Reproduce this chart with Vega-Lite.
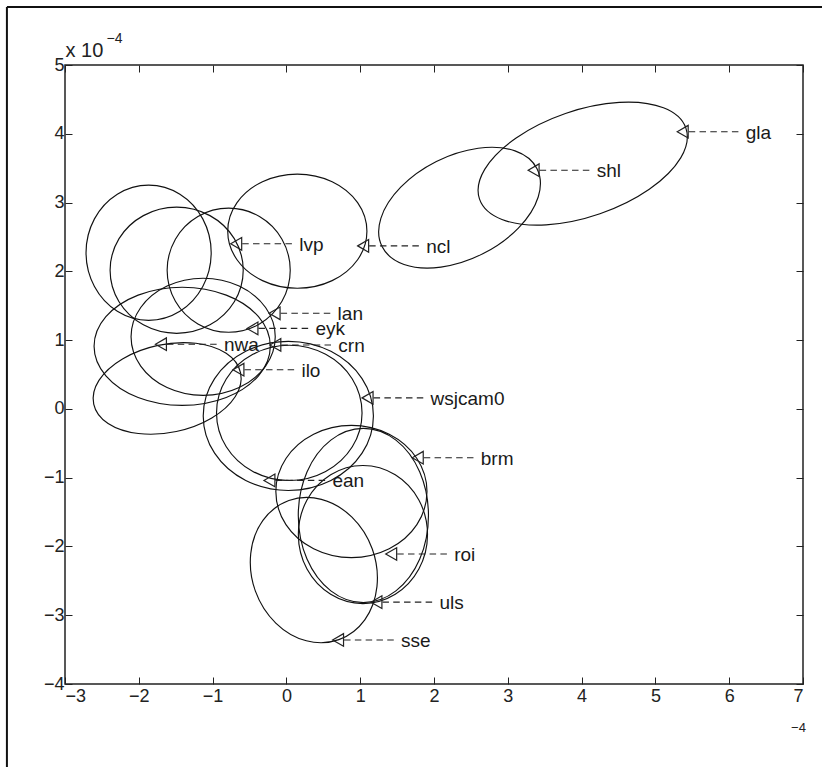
{
"$schema": "https://vega.github.io/schema/vega-lite/v6.json",
"width": 738, "height": 619,
"autosize": {"type": "none"},
"padding": {"left": 65, "top": 65, "right": 19, "bottom": 83},
"background": "white",
"config": {
  "view": {"stroke": "#222", "strokeWidth": 1.5},
  "axis": {"grid": false, "domain": false, "tickColor": "#222", "tickWidth": 1, "tickSize": -7,
    "labelFont": "Liberation Sans", "labelFontSize": 18, "labelColor": "#222",
    "titleFont": "Liberation Sans", "titleColor": "#222", "titleFontWeight": "normal"},
  "text": {"font": "Liberation Sans"}
},
"datasets": {
  "ell": [
{"e":"gla","i":0,"x":5.413,"y":4.083},{"e":"gla","i":1,"x":5.109,"y":4.378},{"e":"gla","i":2,"x":4.511,"y":4.456},{"e":"gla","i":3,"x":3.781,"y":4.295},{"e":"gla","i":4,"x":3.113,"y":3.939},{"e":"gla","i":5,"x":2.687,"y":3.483},{"e":"gla","i":6,"x":2.617,"y":3.049},{"e":"gla","i":7,"x":2.921,"y":2.754},{"e":"gla","i":8,"x":3.519,"y":2.676},{"e":"gla","i":9,"x":4.249,"y":2.837},{"e":"gla","i":10,"x":4.917,"y":3.193},{"e":"gla","i":11,"x":5.343,"y":3.649},
{"e":"shl","i":0,"x":3.396,"y":3.492},{"e":"shl","i":1,"x":3.098,"y":3.752},{"e":"shl","i":2,"x":2.599,"y":3.790},{"e":"shl","i":3,"x":2.032,"y":3.597},{"e":"shl","i":4,"x":1.549,"y":3.224},{"e":"shl","i":5,"x":1.280,"y":2.771},{"e":"shl","i":6,"x":1.296,"y":2.360},{"e":"shl","i":7,"x":1.594,"y":2.100},{"e":"shl","i":8,"x":2.094,"y":2.062},{"e":"shl","i":9,"x":2.661,"y":2.255},{"e":"shl","i":10,"x":3.143,"y":2.628},{"e":"shl","i":11,"x":3.412,"y":3.081},
{"e":"ncl","i":0,"x":1.091,"y":2.584},{"e":"ncl","i":1,"x":0.965,"y":2.999},{"e":"ncl","i":2,"x":0.620,"y":3.303},{"e":"ncl","i":3,"x":0.148,"y":3.414},{"e":"ncl","i":4,"x":-0.324,"y":3.303},{"e":"ncl","i":5,"x":-0.669,"y":2.999},{"e":"ncl","i":6,"x":-0.795,"y":2.584},{"e":"ncl","i":7,"x":-0.669,"y":2.169},{"e":"ncl","i":8,"x":-0.324,"y":1.865},{"e":"ncl","i":9,"x":0.148,"y":1.754},{"e":"ncl","i":10,"x":0.620,"y":1.865},{"e":"ncl","i":11,"x":0.965,"y":2.169},
{"e":"L1","i":0,"x":-1.019,"y":2.271},{"e":"L1","i":1,"x":-1.133,"y":2.763},{"e":"L1","i":2,"x":-1.443,"y":3.122},{"e":"L1","i":3,"x":-1.867,"y":3.254},{"e":"L1","i":4,"x":-2.291,"y":3.122},{"e":"L1","i":5,"x":-2.601,"y":2.763},{"e":"L1","i":6,"x":-2.715,"y":2.271},{"e":"L1","i":7,"x":-2.601,"y":1.780},{"e":"L1","i":8,"x":-2.291,"y":1.420},{"e":"L1","i":9,"x":-1.867,"y":1.288},{"e":"L1","i":10,"x":-1.443,"y":1.420},{"e":"L1","i":11,"x":-1.133,"y":1.780},
{"e":"L2","i":0,"x":-0.585,"y":2.016},{"e":"L2","i":1,"x":-0.706,"y":2.475},{"e":"L2","i":2,"x":-1.036,"y":2.810},{"e":"L2","i":3,"x":-1.487,"y":2.933},{"e":"L2","i":4,"x":-1.938,"y":2.810},{"e":"L2","i":5,"x":-2.268,"y":2.475},{"e":"L2","i":6,"x":-2.389,"y":2.016},{"e":"L2","i":7,"x":-2.268,"y":1.558},{"e":"L2","i":8,"x":-1.938,"y":1.222},{"e":"L2","i":9,"x":-1.487,"y":1.099},{"e":"L2","i":10,"x":-1.036,"y":1.222},{"e":"L2","i":11,"x":-0.706,"y":1.558},
{"e":"L3","i":0,"x":0.052,"y":2.016},{"e":"L3","i":1,"x":-0.060,"y":2.467},{"e":"L3","i":2,"x":-0.365,"y":2.797},{"e":"L3","i":3,"x":-0.782,"y":2.918},{"e":"L3","i":4,"x":-1.199,"y":2.797},{"e":"L3","i":5,"x":-1.504,"y":2.467},{"e":"L3","i":6,"x":-1.616,"y":2.016},{"e":"L3","i":7,"x":-1.504,"y":1.565},{"e":"L3","i":8,"x":-1.199,"y":1.235},{"e":"L3","i":9,"x":-0.782,"y":1.114},{"e":"L3","i":10,"x":-0.365,"y":1.235},{"e":"L3","i":11,"x":-0.060,"y":1.565},
{"e":"M1","i":0,"x":-0.218,"y":0.910},{"e":"M1","i":1,"x":-0.378,"y":1.340},{"e":"M1","i":2,"x":-0.815,"y":1.654},{"e":"M1","i":3,"x":-1.412,"y":1.769},{"e":"M1","i":4,"x":-2.009,"y":1.654},{"e":"M1","i":5,"x":-2.446,"y":1.340},{"e":"M1","i":6,"x":-2.606,"y":0.910},{"e":"M1","i":7,"x":-2.446,"y":0.481},{"e":"M1","i":8,"x":-2.009,"y":0.166},{"e":"M1","i":9,"x":-1.412,"y":0.051},{"e":"M1","i":10,"x":-0.815,"y":0.166},{"e":"M1","i":11,"x":-0.378,"y":0.481},
{"e":"M2","i":0,"x":-0.151,"y":1.048},{"e":"M2","i":1,"x":-0.282,"y":1.474},{"e":"M2","i":2,"x":-0.640,"y":1.786},{"e":"M2","i":3,"x":-1.128,"y":1.900},{"e":"M2","i":4,"x":-1.617,"y":1.786},{"e":"M2","i":5,"x":-1.974,"y":1.474},{"e":"M2","i":6,"x":-2.105,"y":1.048},{"e":"M2","i":7,"x":-1.974,"y":0.622},{"e":"M2","i":8,"x":-1.617,"y":0.310},{"e":"M2","i":9,"x":-1.128,"y":0.196},{"e":"M2","i":10,"x":-0.640,"y":0.310},{"e":"M2","i":11,"x":-0.282,"y":0.622},
{"e":"M3","i":0,"x":-0.621,"y":0.525},{"e":"M3","i":1,"x":-0.816,"y":0.808},{"e":"M3","i":2,"x":-1.226,"y":0.954},{"e":"M3","i":3,"x":-1.740,"y":0.924},{"e":"M3","i":4,"x":-2.221,"y":0.727},{"e":"M3","i":5,"x":-2.540,"y":0.415},{"e":"M3","i":6,"x":-2.611,"y":0.071},{"e":"M3","i":7,"x":-2.416,"y":-0.212},{"e":"M3","i":8,"x":-2.006,"y":-0.358},{"e":"M3","i":9,"x":-1.492,"y":-0.328},{"e":"M3","i":10,"x":-1.011,"y":-0.131},{"e":"M3","i":11,"x":-0.692,"y":0.181},
{"e":"C1","i":0,"x":1.179,"y":-0.102},{"e":"C1","i":1,"x":1.025,"y":0.440},{"e":"C1","i":2,"x":0.603,"y":0.837},{"e":"C1","i":3,"x":0.026,"y":0.982},{"e":"C1","i":4,"x":-0.551,"y":0.837},{"e":"C1","i":5,"x":-0.973,"y":0.440},{"e":"C1","i":6,"x":-1.127,"y":-0.102},{"e":"C1","i":7,"x":-0.973,"y":-0.644},{"e":"C1","i":8,"x":-0.551,"y":-1.041},{"e":"C1","i":9,"x":0.026,"y":-1.186},{"e":"C1","i":10,"x":0.603,"y":-1.041},{"e":"C1","i":11,"x":1.025,"y":-0.644},
{"e":"C2","i":0,"x":1.025,"y":-0.058},{"e":"C2","i":1,"x":0.893,"y":0.434},{"e":"C2","i":2,"x":0.532,"y":0.793},{"e":"C2","i":3,"x":0.039,"y":0.925},{"e":"C2","i":4,"x":-0.454,"y":0.793},{"e":"C2","i":5,"x":-0.815,"y":0.434},{"e":"C2","i":6,"x":-0.947,"y":-0.058},{"e":"C2","i":7,"x":-0.815,"y":-0.550},{"e":"C2","i":8,"x":-0.454,"y":-0.909},{"e":"C2","i":9,"x":0.039,"y":-1.041},{"e":"C2","i":10,"x":0.532,"y":-0.909},{"e":"C2","i":11,"x":0.893,"y":-0.550},
{"e":"E1","i":0,"x":1.905,"y":-1.201},{"e":"E1","i":1,"x":1.768,"y":-0.721},{"e":"E1","i":2,"x":1.393,"y":-0.369},{"e":"E1","i":3,"x":0.881,"y":-0.240},{"e":"E1","i":4,"x":0.369,"y":-0.369},{"e":"E1","i":5,"x":-0.006,"y":-0.721},{"e":"E1","i":6,"x":-0.143,"y":-1.201},{"e":"E1","i":7,"x":-0.006,"y":-1.682},{"e":"E1","i":8,"x":0.369,"y":-2.033},{"e":"E1","i":9,"x":0.881,"y":-2.162},{"e":"E1","i":10,"x":1.393,"y":-2.033},{"e":"E1","i":11,"x":1.768,"y":-1.682},
{"e":"E2","i":0,"x":1.912,"y":-1.827},{"e":"E2","i":1,"x":1.795,"y":-1.325},{"e":"E2","i":2,"x":1.475,"y":-0.958},{"e":"E2","i":3,"x":1.037,"y":-0.823},{"e":"E2","i":4,"x":0.600,"y":-0.958},{"e":"E2","i":5,"x":0.279,"y":-1.325},{"e":"E2","i":6,"x":0.162,"y":-1.827},{"e":"E2","i":7,"x":0.279,"y":-2.329},{"e":"E2","i":8,"x":0.600,"y":-2.696},{"e":"E2","i":9,"x":1.037,"y":-2.831},{"e":"E2","i":10,"x":1.475,"y":-2.696},{"e":"E2","i":11,"x":1.795,"y":-2.329},
{"e":"E3","i":0,"x":1.925,"y":-1.550},{"e":"E3","i":1,"x":1.807,"y":-0.917},{"e":"E3","i":2,"x":1.484,"y":-0.454},{"e":"E3","i":3,"x":1.043,"y":-0.284},{"e":"E3","i":4,"x":0.602,"y":-0.454},{"e":"E3","i":5,"x":0.279,"y":-0.917},{"e":"E3","i":6,"x":0.161,"y":-1.550},{"e":"E3","i":7,"x":0.279,"y":-2.183},{"e":"E3","i":8,"x":0.602,"y":-2.646},{"e":"E3","i":9,"x":1.043,"y":-2.816},{"e":"E3","i":10,"x":1.484,"y":-2.646},{"e":"E3","i":11,"x":1.807,"y":-2.183},
{"e":"S","i":0,"x":1.164,"y":-2.038},{"e":"S","i":1,"x":0.888,"y":-1.574},{"e":"S","i":2,"x":0.474,"y":-1.316},{"e":"S","i":3,"x":0.033,"y":-1.333},{"e":"S","i":4,"x":-0.318,"y":-1.622},{"e":"S","i":5,"x":-0.483,"y":-2.103},{"e":"S","i":6,"x":-0.420,"y":-2.650},{"e":"S","i":7,"x":-0.144,"y":-3.114},{"e":"S","i":8,"x":0.270,"y":-3.372},{"e":"S","i":9,"x":0.711,"y":-3.355},{"e":"S","i":10,"x":1.062,"y":-3.067},{"e":"S","i":11,"x":1.227,"y":-2.585}
  ],
  "pts": [
{"label":"gla","x":5.37,"y":4.03},
{"label":"shl","x":3.35,"y":3.47},
{"label":"lvp","x":-0.68,"y":2.40},
{"label":"ncl","x":1.04,"y":2.37},
{"label":"lan","x":-0.16,"y":1.39},
{"label":"eyk","x":-0.46,"y":1.17},
{"label":"crn","x":-0.15,"y":0.93},
{"label":"nwa","x":-1.70,"y":0.94},
{"label":"ilo","x":-0.65,"y":0.57},
{"label":"wsjcam0","x":1.10,"y":0.16},
{"label":"brm","x":1.78,"y":-0.71},
{"label":"ean","x":-0.23,"y":-1.04},
{"label":"roi","x":1.42,"y":-2.11},
{"label":"uls","x":1.22,"y":-2.81},
{"label":"sse","x":0.70,"y":-3.36}
  ]
},
"resolve": {"axis": {"x": "independent", "y": "independent"}},
"layer": [
  {
    "data": {"values": [{}]},
    "mark": {"type": "rule", "color": "#111", "strokeWidth": 2, "clip": false},
    "encoding": {
      "x": {"datum": -3.787, "type": "quantitative", "scale": {"domain": [-3, 7], "nice": false, "zero": false}, "axis": null},
      "y": {"datum": 5.844, "type": "quantitative", "scale": {"domain": [-4, 5], "nice": false, "zero": false}, "axis": null},
      "y2": {"datum": -5.6}
    }
  },
  {
    "data": {"values": [{}]},
    "mark": {"type": "rule", "color": "#111", "strokeWidth": 2, "clip": false},
    "encoding": {
      "x": {"datum": -3.787, "type": "quantitative", "scale": {"domain": [-3, 7], "nice": false, "zero": false}, "axis": null},
      "x2": {"datum": 7.6},
      "y": {"datum": 5.844, "type": "quantitative", "scale": {"domain": [-4, 5], "nice": false, "zero": false}, "axis": null}
    }
  },
  {
    "data": {"name": "ell"},
    "mark": {"type": "line", "interpolate": "cardinal-closed", "tension": 0, "color": "#111", "strokeWidth": 1.15},
    "encoding": {
      "x": {"field": "x", "type": "quantitative", "scale": {"domain": [-3, 7], "nice": false, "zero": false},
        "axis": {"orient": "bottom", "values": [-3,-2,-1,0,1,2,3,4,5,6,7], "labelPadding": 10,
          "title": "−4", "titleFontSize": 13, "titleX": 733, "titleY": 47, "titleAlign": "center", "titleBaseline": "alphabetic", "titleAnchor": null}},
      "y": {"field": "y", "type": "quantitative", "scale": {"domain": [-4, 5], "nice": false, "zero": false},
        "axis": {"orient": "left", "values": [-4,-3,-2,-1,0,1,2,3,4,5], "labelPadding": 8,
          "title": "x 10", "titleAngle": 0, "titleFontSize": 20, "titleX": 0, "titleY": -9, "titleAlign": "left", "titleBaseline": "alphabetic", "titleAnchor": null}},
      "detail": {"field": "e"},
      "order": {"field": "i", "type": "quantitative"}
    }
  },
  {
    "data": {"name": "pts"},
    "mark": {"type": "rule", "color": "#222", "strokeWidth": 1.1, "strokeDash": [6.5, 4.3], "xOffset": 6, "x2Offset": 59},
    "encoding": {
      "x": {"field": "x", "type": "quantitative", "scale": {"domain": [-3, 7], "nice": false, "zero": false}, "axis": null},
      "x2": {"field": "x"},
      "y": {"field": "y", "type": "quantitative", "scale": {"domain": [-4, 5], "nice": false, "zero": false}, "axis": null}
    }
  },
  {
    "data": {"name": "pts"},
    "mark": {"type": "point", "shape": "triangle-left", "filled": false, "color": "#222", "strokeWidth": 1.2, "size": 160, "opacity": 1},
    "encoding": {
      "x": {"field": "x", "type": "quantitative", "scale": {"domain": [-3, 7], "nice": false, "zero": false},
        "axis": {"orient": "top", "values": [-3,-2,-1,0,1,2,3,4,5,6,7], "labels": false,
          "title": "−4", "titleFontSize": 14, "titleX": 41, "titleY": -23, "titleAlign": "left", "titleBaseline": "alphabetic", "titleAnchor": null}},
      "y": {"field": "y", "type": "quantitative", "scale": {"domain": [-4, 5], "nice": false, "zero": false},
        "axis": {"orient": "right", "values": [-4,-3,-2,-1,0,1,2,3,4,5], "labels": false, "title": null}}
    }
  },
  {
    "data": {"name": "pts"},
    "mark": {"type": "text", "align": "left", "baseline": "alphabetic", "dx": 63, "dy": 7, "fontSize": 19, "color": "#1a1a1a", "font": "Liberation Sans"},
    "encoding": {
      "x": {"field": "x", "type": "quantitative", "scale": {"domain": [-3, 7], "nice": false, "zero": false}, "axis": null},
      "y": {"field": "y", "type": "quantitative", "scale": {"domain": [-4, 5], "nice": false, "zero": false}, "axis": null},
      "text": {"field": "label"}
    }
  }
]
}
